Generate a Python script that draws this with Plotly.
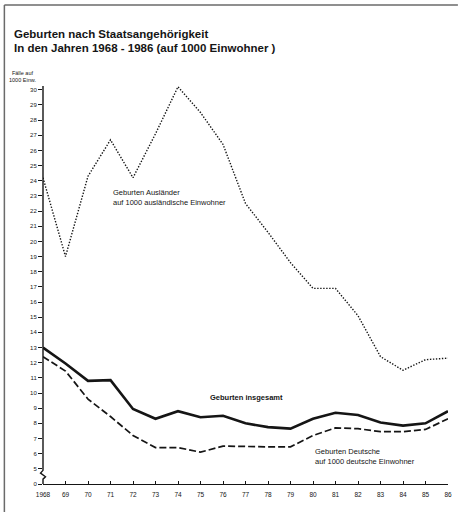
import plotly.graph_objects as go

years = list(range(1968, 1987))
year_labels = ["1968"] + [str(y)[2:] for y in years[1:]]

auslaender = [24.2, 19.0, 24.3, 26.7, 24.2, 27.1, 30.2, 28.5, 26.4, 22.5,
              20.6, 18.6, 16.9, 16.9, 15.1, 12.4, 11.5, 12.2, 12.3]
insgesamt = [13.0, 11.95, 10.8, 10.85, 8.95, 8.3, 8.8, 8.4, 8.5, 8.0,
             7.75, 7.65, 8.3, 8.7, 8.55, 8.05, 7.85, 8.0, 8.8]
deutsche = [12.4, 11.45, 9.6, 8.45, 7.2, 6.4, 6.4, 6.1, 6.5, 6.45,
            6.45, 6.45, 7.2, 7.7, 7.65, 7.45, 7.45, 7.6, 8.3]

# broken axis: "0" sits one unit below 5
y_tickvals = [4] + list(range(5, 31))
y_ticktext = ["0"] + [str(v) for v in range(5, 31)]

INK = "#151515"
FONT = "Liberation Sans, Arial, sans-serif"

fig = go.Figure()
fig.add_trace(go.Scatter(x=years, y=auslaender, mode="lines",
                         line=dict(color=INK, width=1.4, dash="1.4px,1.6px"),
                         showlegend=False))
fig.add_trace(go.Scatter(x=years, y=insgesamt, mode="lines",
                         line=dict(color=INK, width=2.6),
                         showlegend=False))
fig.add_trace(go.Scatter(x=years, y=deutsche, mode="lines",
                         line=dict(color=INK, width=1.7, dash="7px,3px"),
                         showlegend=False))

ann_font = dict(family=FONT, size=7.5, color=INK)
fig.add_annotation(x=1971.0, y=22.9, xref="x", yref="y", xanchor="left",
                   yanchor="middle", align="left", showarrow=False,
                   text="Geburten Ausländer<br>auf 1000 ausländische Einwohner",
                   font=ann_font)
fig.add_annotation(x=1975.35, y=9.7, xref="x", yref="y", xanchor="left",
                   yanchor="middle", align="left", showarrow=False,
                   text="<b>Geburten insgesamt</b>", font=ann_font)
fig.add_annotation(x=1980.0, y=5.8, xref="x", yref="y", xanchor="left",
                   yanchor="middle", align="left", showarrow=False,
                   text="Geburten Deutsche<br>auf 1000 deutsche Einwohner",
                   font=ann_font)
fig.add_annotation(x=-21 / 409, y=(484 - 76.5) / 398, xref="paper", yref="paper",
                   xanchor="center", yanchor="middle", showarrow=False,
                   text="Fälle auf<br>1000 Einw.",
                   font=dict(family=FONT, size=5.5, color=INK))

# frame lines (top and left) and the y-axis with its break
frame = dict(color="#6a6a6a", width=1.5)
fig.add_shape(type="line", xref="paper", yref="paper",
              x0=-39 / 409, x1=419 / 409, y0=479 / 398, y1=479 / 398, line=frame)
fig.add_shape(type="line", xref="paper", yref="paper",
              x0=-39 / 409, x1=-39 / 409, y0=479 / 398, y1=-28 / 398, line=frame)
px = 1 / 409
fig.add_shape(type="path", xref="paper", yref="y",
              path=(f"M 0,30.25 L 0,4.9 L {-2.5 * px},4.72 L {2.5 * px},4.48 "
                    f"L 0,4.32 L 0,4"),
              line=dict(color=INK, width=1.4))

fig.update_layout(
    width=462, height=512,
    margin=dict(l=43, r=10, t=86, b=28),
    paper_bgcolor="white", plot_bgcolor="white",
    font=dict(family=FONT, color=INK),
    title=dict(text="<b>Geburten nach Staatsangehörigkeit<br>"
                    "In den Jahren 1968 - 1986 (auf 1000 Einwohner )</b>",
               x=14 / 462, xanchor="left", xref="container",
               y=1 - 37.5 / 512, yanchor="middle", yref="container",
               font=dict(family=FONT, size=11.5, color=INK)),
    xaxis=dict(range=[1968, 1986], tickvals=years, ticktext=year_labels,
               showgrid=False, zeroline=False, showline=True,
               linecolor=INK, linewidth=1.4, ticks="inside", ticklen=3,
               tickcolor=INK, tickwidth=1, ticklabelstandoff=4,
               tickfont=dict(family=FONT, size=6.5, color=INK)),
    yaxis=dict(range=[4, 30.25], tickvals=y_tickvals, ticktext=y_ticktext,
               showgrid=False, zeroline=False, showline=False,
               ticks="outside", ticklen=4, tickcolor=INK, tickwidth=1,
               tickfont=dict(family=FONT, size=6, color=INK)),
)

fig.write_html("out.html", config={"displayModeBar": False},
               post_script="document.body.style.margin='0';")
